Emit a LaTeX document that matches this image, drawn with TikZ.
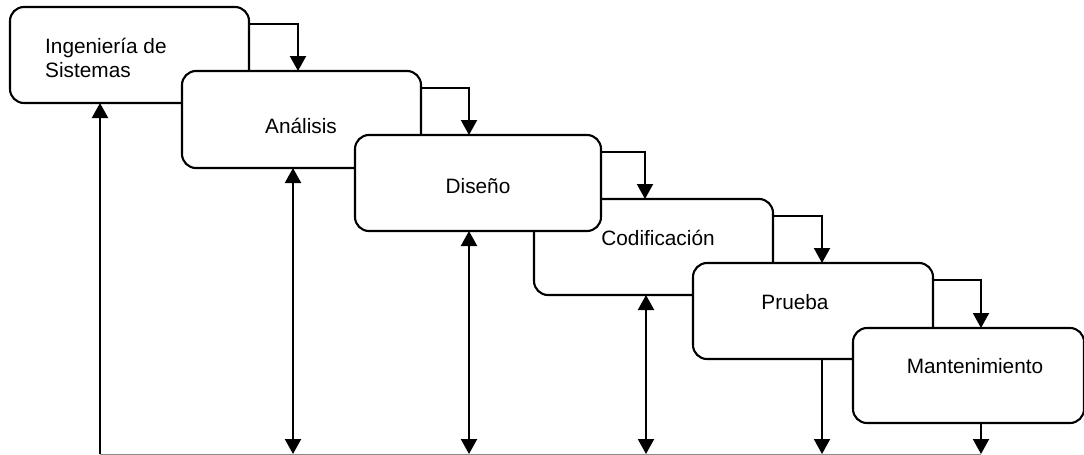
\documentclass[tikz,border=0pt]{standalone}
\usepackage{fontspec}
\setmainfont{Liberation Sans}
\usetikzlibrary{arrows.meta}
\begin{document}
\begin{tikzpicture}[x=1pt, y=-1pt,
  phase/.style={draw=black, line width=2.1pt, fill=white, rounded corners=14pt,
    rectangle, inner sep=0pt, outer sep=0pt, anchor=north west},
  label/.style={font=\fontsize{20.8}{24}\selectfont, inner sep=0pt, anchor=base},
  tip/.style={Triangle[length=15pt,width=16pt]},
  flow/.style={line width=2.1pt, -{Triangle[length=15pt,width=16pt]}},
  back/.style={line width=2.1pt, {Triangle[length=15pt,width=16pt]}-{Triangle[length=15pt,width=16pt]}},
  base/.style={draw=black!45, line width=1pt}]
\useasboundingbox (0,0) rectangle (1084,455);

% phase boxes, each later one laid over the previous
\node[phase, minimum width=239pt, minimum height=96pt] (ing) at (10,7) {};
\node[phase, minimum width=239pt, minimum height=97pt] (ana) at (182,71) {};
\node[phase, minimum width=239pt, minimum height=96pt] (cod) at (534,199) {};
\node[phase, minimum width=246pt, minimum height=96pt] (dis) at (355,135) {};
\node[phase, minimum width=240pt, minimum height=96pt] (pru) at (693,263) {};
\node[phase, minimum width=231pt, minimum height=95pt] (man) at (853,328) {};

% phase names
\node[label, anchor=base west, align=left] (tIng) at (45,77) {Ingeniería de\\Sistemas};
\node[label] (tAna) at (301,133) {Análisis};
\node[label] (tDis) at (478,193) {Diseño};
\node[label] (tCod) at (658,245) {Codificación};
\node[label] (tPru) at (795,309) {Prueba};
\node[label] (tMan) at (975,373) {Mantenimiento};

% forward steps between phases
\coordinate (s1) at (298,24);
\coordinate (s2) at (469,88);
\coordinate (s3) at (645,152);
\coordinate (s4) at (822,216);
\coordinate (s5) at (981,280);
\draw[flow] (s1 -| ing.east) -| (s1 |- ana.north);
\draw[flow] (s2 -| ana.east) -| (s2 |- dis.north);
\draw[flow] (s3 -| dis.east) -| (s3 |- cod.north);
\draw[flow] (s4 -| cod.east) -| (s4 |- pru.north);
\draw[flow] (s5 -| pru.east) -| (s5 |- man.north);

% common feedback line along the bottom
\coordinate (b0) at (100,454);
\coordinate (b1) at (293,454);
\coordinate (b2) at (469,454);
\coordinate (b3) at (646,454);
\coordinate (b4) at (822,454);
\coordinate (b5) at (981,454);
\draw[base] (b0) -- (b5);

\draw[flow] (b0) -- (b0 |- ing.south);
\draw[back] (b1) -- (b1 |- ana.south);
\draw[back] (b2) -- (b2 |- dis.south);
\draw[back] (b3) -- (b3 |- cod.south);
\draw[flow] (b4 |- pru.south) -- (b4);
\draw[flow] (b5 |- man.south) -- (b5);
\end{tikzpicture}
\end{document}
